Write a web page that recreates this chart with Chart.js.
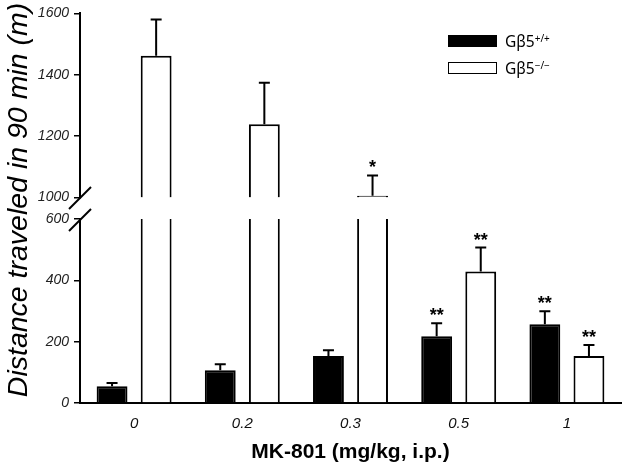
<!DOCTYPE html>
<html>
<head>
    <title>MK-801 locomotion</title>
    <script src="https://cdn.jsdelivr.net/npm/chart.js"></script>
    <style>
        body { margin: 0; background: #fff; font-family: "Liberation Sans", Arial, sans-serif; }
        #wrap { position: relative; width: 629px; height: 471px; overflow: hidden; }
        canvas { position: absolute; left: 0; }
        #topChart { top: 0; }
        #lowChart { top: 180px; }
        #ytitle {
            position: absolute; left: -193px; top: 183px; width: 420px; height: 34px;
            line-height: 34px; text-align: center; font-style: italic; font-size: 28.5px;
            transform: rotate(-90deg); white-space: nowrap; color: #000;
        }
        .legbox { position: absolute; left: 448px; width: 49px; box-sizing: border-box; border: 1.5px solid #000; }
        .legtxt { position: absolute; left: 505px; font-family: "Noto Sans", "Open Sans", sans-serif; font-size: 15.5px; line-height: 16px; color: #000; }
        .legtxt sup { font-size: 10px; vertical-align: 5px; line-height: 0; }
    </style>
</head>
<body>
<div id="wrap">
    <canvas id="topChart" width="629" height="211"></canvas>
    <canvas id="lowChart" width="629" height="291"></canvas>
    <div id="ytitle">Distance traveled in 90 min (m)</div>
    <div class="legbox" style="top:35px;height:12px;background:#000"></div>
    <div class="legtxt" style="top:33px">Gβ5<sup>+/+</sup></div>
    <div class="legbox" style="top:62px;height:12px;background:#fff"></div>
    <div class="legtxt" style="top:60px">Gβ5<sup>−/−</sup></div>
</div>
<script>
    const doses = ['0', '0.2', '0.3', '0.5', '1'];
    const wtMean = [55, 107, 153, 218, 257];
    const wtSem = [10, 19, 19, 42, 42];
    const koMean = [1462, 1239, 1006, 429, 153];
    const koSem = [118, 135, 66, 78, 36];
    const wtStars = ['', '', '', '**', '**'];
    const koStars = ['', '', '*', '**', '**'];
    const lowRange = [0, 600];
    const highRange = [1000, 1600];
    const tickStep = 200;

    // error bars + significance stars, only where the mean falls in this segment
    const errorBars = {
        id: 'errorBars',
        afterDatasetsDraw(chart) {
            const ctx = chart.ctx;
            const ys = chart.scales.y;
            chart.data.datasets.forEach((ds, di) => {
                const meta = chart.getDatasetMeta(di);
                meta.data.forEach((bar, i) => {
                    const m = ds.means[i];
                    if (m < ys.min || m > ys.max) return;
                    const y0 = ys.getPixelForValue(m);
                    const y1 = ys.getPixelForValue(m + ds.sems[i]);
                    ctx.save();
                    ctx.strokeStyle = '#000';
                    ctx.lineWidth = 2;
                    ctx.beginPath();
                    ctx.moveTo(bar.x, y0);
                    ctx.lineTo(bar.x, y1);
                    ctx.moveTo(bar.x - 5.5, y1);
                    ctx.lineTo(bar.x + 5.5, y1);
                    ctx.stroke();
                    if (ds.stars[i]) {
                        ctx.fillStyle = '#000';
                        ctx.font = 'bold 18px "Liberation Sans", Arial';
                        ctx.textAlign = 'center';
                        ctx.textBaseline = 'alphabetic';
                        ctx.fillText(ds.stars[i], bar.x, y1 - 2);
                    }
                    ctx.restore();
                });
            });
        }
    };

    // the two slashes of the axis break
    const axisBreak = {
        id: 'axisBreak',
        afterDraw(chart) {
            const ctx = chart.ctx;
            const x = chart.chartArea.left;
            const yLow = chart.chartArea.top + 1;
            ctx.save();
            ctx.strokeStyle = '#000';
            ctx.lineWidth = 2;
            [yLow, yLow - 22].forEach(y => {
                ctx.beginPath();
                ctx.moveTo(x - 11, y + 11);
                ctx.lineTo(x + 11, y - 11);
                ctx.stroke();
            });
            ctx.restore();
        }
    };

    function yAxis(range) {
        return {
            min: range[0],
            max: range[1],
            afterFit: (s) => { s.width = 80; },
            border: { display: true, color: '#000', width: 2 },
            grid: { drawOnChartArea: false, drawTicks: true, tickLength: 6, color: '#000', lineWidth: 1.5 },
            ticks: {
                stepSize: tickStep,
                padding: 5,
                color: '#222',
                callback: (v) => String(v),
                font: { family: '"Liberation Sans", Arial', size: 14, style: 'italic' }
            }
        };
    }

    const barCommon = {
        categoryPercentage: 0.815,
        barPercentage: 0.7,
        borderColor: '#000',
        borderWidth: 2
    };

    // upper segment: 1000-1600
    new Chart(document.getElementById('topChart').getContext('2d'), {
        type: 'bar',
        data: {
            labels: doses,
            datasets: [
                Object.assign({
                    label: 'Gβ5+/+',
                    data: wtMean.map(v => v >= highRange[0] ? [highRange[0], v] : null),
                    backgroundColor: '#000',
                    means: wtMean, sems: wtSem, stars: wtStars
                }, barCommon),
                Object.assign({
                    label: 'Gβ5-/-',
                    data: koMean.map(v => v >= highRange[0] ? [highRange[0], v] : null),
                    backgroundColor: '#fff',
                    means: koMean, sems: koSem, stars: koStars
                }, barCommon)
            ]
        },
        options: {
            responsive: false,
            animation: false,
            layout: { padding: { top: 13, bottom: 10, left: 0, right: 8 } },
            plugins: { legend: { display: false }, tooltip: { enabled: false } },
            scales: {
                x: { display: false },
                y: yAxis(highRange)
            }
        },
        plugins: [errorBars]
    });

    // lower segment: 0-600
    new Chart(document.getElementById('lowChart').getContext('2d'), {
        type: 'bar',
        data: {
            labels: doses,
            datasets: [
                Object.assign({
                    label: 'Gβ5+/+',
                    data: wtMean,
                    backgroundColor: '#000',
                    clip: 0,
                    means: wtMean, sems: wtSem, stars: wtStars
                }, barCommon),
                Object.assign({
                    label: 'Gβ5-/-',
                    data: koMean,
                    backgroundColor: '#fff',
                    clip: 0,
                    means: koMean, sems: koSem, stars: koStars
                }, barCommon)
            ]
        },
        options: {
            responsive: false,
            animation: false,
            layout: { padding: { top: 39, bottom: 0, left: 0, right: 8 } },
            plugins: { legend: { display: false }, tooltip: { enabled: false } },
            scales: {
                x: {
                    afterFit: (s) => { s.height = 68; },
                    border: { display: true, color: '#000', width: 2 },
                    grid: { display: false, drawTicks: false },
                    ticks: {
                        padding: 12,
                        color: '#111',
                        font: { family: '"Liberation Sans", Arial', size: 15, style: 'italic' }
                    },
                    title: {
                        display: true,
                        text: 'MK-801 (mg/kg, i.p.)',
                        color: '#000',
                        padding: { top: 0, bottom: 6 },
                        font: { family: '"Liberation Sans", Arial', size: 21, weight: 'bold' }
                    }
                },
                y: yAxis(lowRange)
            }
        },
        plugins: [errorBars, axisBreak]
    });
</script>
</body>
</html>
